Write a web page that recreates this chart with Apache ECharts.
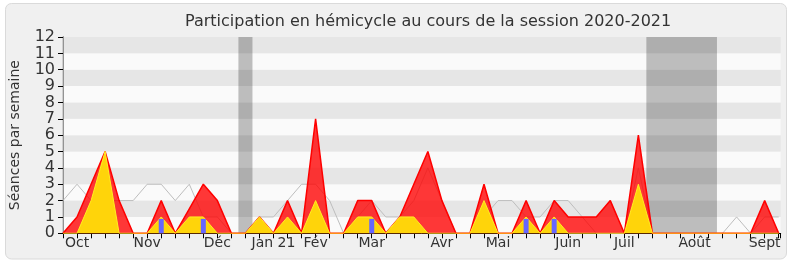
<!DOCTYPE html>
<html><head><meta charset="utf-8">
<script src="https://cdn.jsdelivr.net/npm/echarts@6/dist/echarts.min.js"></script>
<style>html,body{margin:0;padding:0;background:#fff}#c{width:790px;height:267px}</style>
</head><body><div id="c"></div>
<script>
// Week index (one point per week of the 2020-2021 session)
const weekIndex = [0,1,2,3,4,5,6,7,8,9,10,11,12,13,14,15,16,17,18,19,20,21,22,23,24,25,26,27,28,29,30,31,32,33,34,35,36,37,38,39,40,41,42,43,44,45,46,47,48,49,50,51];
// Month labels and the week they are placed on
const monthWeeks = [1,6,11,15,18,22,27,31,36,40,45,50];
const monthNames = ['Oct','Nov','Déc','Jan 21','Fév','Mar','Avr','Mai','Juin','Juil','Août','Sept'];
// Séances (red), interventions (yellow), médiane (gray)
const presences = [0,1,3,5,2,0,0,2,0,1.5,3,2,0,0,1,0,2,0,7,0,0,2,2,0,1,3,5,2,0,0,3,0,0,2,0,2,1,1,1,2,0,6,0,0,0,0,0,0,0,0,2,0];
const interventions = [0,0,2,5,0,0,0,1,0,1,1,0,0,0,1,0,1,0,2,0,0,1,1,0,1,1,0,0,0,0,2,0,0,1,0,1,0,0,0,0,0,3,0,0,0,0,0,0,0,0,0,0];
const mediane = [2,3,2,2,2,2,3,3,2,3,1,1,0,0,1,1,2,3,3,2,0,1,2,1,1,2,4,2,0,0,1,2,2,1,1,2,2,1,0,0,0,4,0,0,0,0,0,0,1,0,1,1];
// Questions (blue bars)
const questionWeeks = [7,10,22,33,35];
const questionValues = [0.88,0.88,0.88,0.88,0.88];
// Vacations (week ranges)
const vacations = [[12.5,13.5],[41.57,46.6]];
const yTicks = [0,1,2,3,4,5,6,7,8,9,10,11,12];

const pair = arr => weekIndex.map((w,i)=>[w,arr[i]]);
const labelMap = {};
monthWeeks.forEach((w,i)=>labelMap[w]=monthNames[i]);
const FONT = 'DejaVu Sans';
const xMax = 51.14;

const chart = echarts.init(document.getElementById('c'), null, {renderer:'canvas'});
chart.setOption({
  backgroundColor:'#ffffff',
  animation:false,
  graphic:[{type:'rect', z:-10, shape:{x:5.5,y:3.5,width:781,height:255.5,r:6},
            style:{fill:'#f0f0f0', stroke:'#dadada', lineWidth:1}}],
  title:{text:'Participation en hémicycle au cours de la session 2020-2021', left:180, top:9,
         textStyle:{fontFamily:FONT, fontSize:16, fontWeight:'normal', color:'#333'}},
  grid:{left:61.67, right:9.33, top:37, bottom:33.7},
  xAxis:[{type:'value', min:0, max:xMax, interval:1, position:'bottom',
          axisLine:{show:true, onZero:false, lineStyle:{color:'#000', width:1}},
          axisTick:{show:true, length:5, lineStyle:{color:'#000'}},
          splitLine:{show:false},
          axisLabel:{show:true, margin:3, fontFamily:FONT, fontSize:14, color:'#333',
                     formatter:v=>labelMap[Math.round(v)]!==undefined && Math.abs(v-Math.round(v))<1e-6 ? labelMap[Math.round(v)] : ''}},
         {type:'value', min:0, max:xMax, interval:1, position:'top',
          axisLine:{show:false}, axisTick:{show:true, inside:true, length:1.5, lineStyle:{color:'#000'}},
          axisLabel:{show:false}, splitLine:{show:false}}],
  yAxis:[{type:'value', min:0, max:12, interval:1,
          name:'Séances par semaine', nameLocation:'middle', nameGap:41,
          nameTextStyle:{fontFamily:FONT, fontSize:14, color:'#333'},
          axisLine:{show:true, lineStyle:{color:'#000'}},
          axisTick:{show:true, length:5, lineStyle:{color:'#000'}},
          axisLabel:{margin:8, fontFamily:FONT, fontSize:16, color:'#333',
                     formatter:v=>yTicks.includes(v)?String(v):''},
          splitLine:{show:false},
          splitArea:{show:true, areaStyle:{color:['#fafafa','#e6e6e6']}}},
         {type:'value', min:0, max:12, interval:1, position:'right',
          axisLine:{show:true, lineStyle:{color:'#c4c4c4', width:1.5}},
          axisTick:{show:false}, axisLabel:{show:false}, splitLine:{show:false}}],
  series:[
    {type:'line', name:'médiane', data:pair(mediane), symbol:'none', z:2,
     lineStyle:{color:'#bdbdbd', width:1}},
    {type:'line', name:'présences', data:pair(presences), symbol:'none', z:3,
     lineStyle:{color:'#ff0000', width:1.5}, areaStyle:{color:'rgba(255,0,0,0.78)', opacity:1}},
    {type:'line', name:'interventions', data:pair(interventions), symbol:'none', z:4,
     lineStyle:{color:'#ffee22', width:1}, areaStyle:{color:'#ffd40a', opacity:1}},
    {type:'bar', name:'questions', data:questionWeeks.map((w,i)=>[w,questionValues[i]]), barWidth:5, z:5,
     itemStyle:{color:'#6666ff'}},
    {type:'line', name:'vacances', data:[], z:10,
     markArea:{silent:true, itemStyle:{color:'rgba(0,0,0,0.245)'},
               data:vacations.map(v=>[{xAxis:v[0]},{xAxis:v[1]}])}}
  ]
});
</script></body></html>
